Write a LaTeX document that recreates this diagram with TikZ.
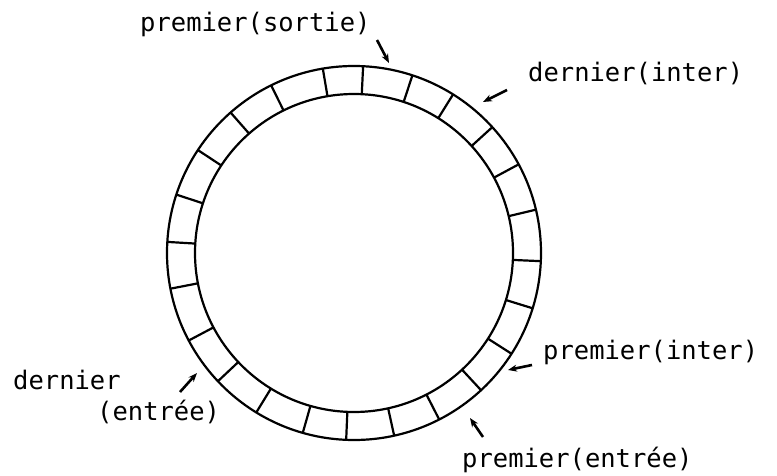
\documentclass[tikz,border=0pt]{standalone}
\usepackage{fontspec}
\setmonofont{DejaVu Sans Mono}
\usetikzlibrary{arrows.meta}
\begin{document}
\begin{tikzpicture}[x=1pt,y=-1pt,
  ring/.style={line width=2.2pt},
  lbl/.style={font=\ttfamily\fontsize{25.5}{28}\selectfont, inner sep=0pt, anchor=base west},
  ptr/.style={line width=2.6pt,-{Stealth[length=9pt,width=7pt]}}]
\useasboundingbox (0,0) rectangle (777,476);
\coordinate (c) at (354,253);
\draw[ring] (c) circle[radius=187];
\draw[ring] (c) circle[radius=159];
\foreach \a in {-99.6,-87.2,-71.8,-58,-42.3,-28.3,-13.4,2.5,17.2,32.6,47.2,62.9,77.6,92.4,105.9,121.5,136.7,152.1,169,183.4,198.2,213.4,228.7,243.7}
  \draw[ring] ([shift={(c)}]\a:159) -- ([shift={(c)}]\a:187);
% labels
\node[lbl] (ps) at (140,32) {premier(sortie)};
\node[lbl] (di) at (528,82) {dernier(inter)};
\node[lbl] (pi) at (543,359) {premier(inter)};
\node[lbl] (pe) at (462,467) {premier(entrée)};
\node[lbl] (d1) at (13,389) {dernier};
\node[lbl] (d2) at (97,420) {(entrée)};
% arrows
\coordinate (psA) at (377,40);  \coordinate (psB) at (389,63);
\coordinate (diA) at (507,90);  \coordinate (diB) at (483,102);
\coordinate (piA) at (532,365); \coordinate (piB) at (508,370);
\coordinate (peA) at (483,437); \coordinate (peB) at (470,418);
\coordinate (deA) at (180,392); \coordinate (deB) at (197,373);
\draw[ptr] (psA) -- (psB);
\draw[ptr] (diA) -- (diB);
\draw[ptr] (piA) -- (piB);
\draw[ptr] (peA) -- (peB);
\draw[ptr] (deA) -- (deB);
\end{tikzpicture}
\end{document}
